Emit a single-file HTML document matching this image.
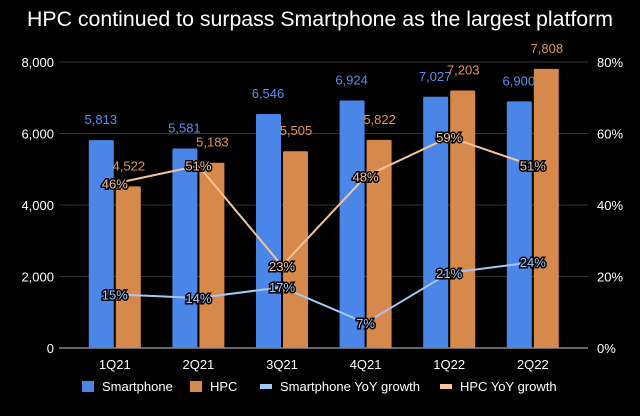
<!DOCTYPE html>
<html><head><meta charset="utf-8"><style>
body{margin:0;background:#000;width:640px;height:411px;overflow:hidden;font-family:"Liberation Sans",sans-serif}
text{font-family:"Liberation Sans",sans-serif}
</style></head><body>
<svg id="c" width="640" height="411">
<text x="320" y="26" fill="#fff" font-size="21.3" text-anchor="middle">HPC continued to surpass Smartphone as the largest platform</text>
</svg>
<script>
const categories=["1Q21","2Q21","3Q21","4Q21","1Q22","2Q22"];
const smartphone=[5813,5581,6546,6924,7027,6900];
const hpc=[4522,5183,5505,5822,7203,7808];
const smartGrowth=[15,14,17,7,21,24];
const hpcGrowth=[46,51,23,48,59,51];
const leftTicks=[0,2000,4000,6000,8000];
const rightTicks=[0,20,40,60,80];
const svg=document.getElementById('c');const NS='http://www.w3.org/2000/svg';
function mk(t,a,p){const e=document.createElementNS(NS,t);for(const k in a)e.setAttribute(k,a[k]);(p||svg).appendChild(e);return e;}
const y0=348,y1=62,x0=73,band=83.6;
const yL=v=>y0-(v/8000)*(y0-y1);
const yR=v=>y0-(v/80)*(y0-y1);
const xC=i=>x0+band*(i+0.5);
const fmt=v=>v.toLocaleString('en-US');
leftTicks.forEach(v=>{
 const l=mk('line',{x1:59,x2:588,y1:yL(v),y2:yL(v),stroke:v?'#333':'#ccc','stroke-width':1});
 
 const t=mk('text',{x:54,y:yL(v)+5,fill:'#fff','font-size':13,'text-anchor':'end'});t.textContent=fmt(v);
 
});
rightTicks.forEach(v=>{
 const t=mk('text',{x:597,y:yR(v)+5,fill:'#fff','font-size':13});t.textContent=v+'%';
 
});
categories.forEach((c,i)=>{
 const cx=xC(i);
 const b1=mk('rect',{x:cx-26,y:yL(smartphone[i]),width:25,height:y0-yL(smartphone[i]),fill:'#4a86e8',rx:1});
 
 const b2=mk('rect',{x:cx+1,y:yL(hpc[i]),width:25,height:y0-yL(hpc[i]),fill:'#d6894a',rx:1});
 
 const t1=mk('text',{x:cx-14,y:yL(smartphone[i])-16,fill:'#5b8ff0','font-size':13,'text-anchor':'middle'});t1.textContent=fmt(smartphone[i]);
 
 const t2=mk('text',{x:cx+14,y:yL(hpc[i])-16,fill:'#e6954f','font-size':13,'text-anchor':'middle'});t2.textContent=fmt(hpc[i]);
 
 const tc=mk('text',{x:cx,y:369,fill:'#fff','font-size':13,'text-anchor':'middle'});tc.textContent=c;
 
});
function line(arr,col,name){
 const p=mk('polyline',{points:arr.map((v,i)=>xC(i)+','+yR(v)).join(' '),fill:'none',stroke:col,'stroke-width':2});
 
 arr.forEach((v,i)=>{
  const t=mk('text',{x:xC(i),y:yR(v)+5,fill:col,'font-size':13,'text-anchor':'middle',stroke:'#000','stroke-width':3,'paint-order':'stroke'});t.textContent=v+'%';
  
 });
}
line(hpcGrowth,'#f6c49a','hpc-growth-line');
line(smartGrowth,'#a4c8f5','smartphone-growth-line');
const leg=[['Smartphone','#4a86e8',82],['HPC','#d6894a',190],['Smartphone YoY growth','#a4c8f5',260],['HPC YoY growth','#f6c49a',440]];
leg.forEach(l=>{
 const r=mk('rect',{x:l[2],y:l[0].includes('YoY')?384:381,width:12,height:l[0].includes('YoY')?5:11,fill:l[1]});
 
 const t=mk('text',{x:l[2]+20,y:391,fill:'#fff','font-size':13});t.textContent=l[0];
 
});
</script>
</body></html>
